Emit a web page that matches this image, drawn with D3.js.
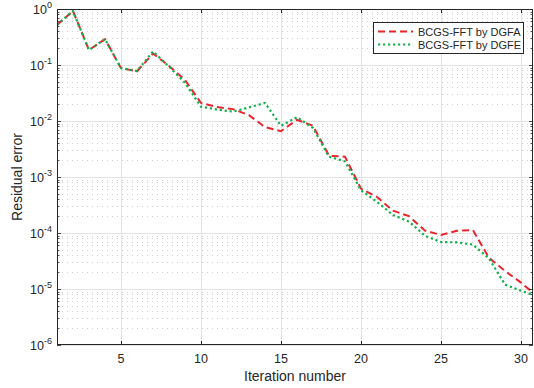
<!DOCTYPE html>
<html>
<head>
<meta charset="utf-8">
<script src="https://cdn.jsdelivr.net/npm/d3@7"></script>
<style>
  body { margin: 0; background: #fff; }
  svg { display: block; font-family: "Liberation Sans", Arial, sans-serif; }
</style>
</head>
<body>
<svg id="chart" width="534" height="388"></svg>
<script>
// Data
const iterations = d3.range(1, 32);
const dgfa = [0.52, 0.92, 0.185, 0.29, 0.088, 0.077, 0.16, 0.096, 0.054, 0.021,
  0.0177, 0.0163, 0.0127, 0.0078, 0.0066, 0.0105, 0.0082, 0.0024, 0.0023, 0.00062,
  0.00044, 0.00025, 0.0002, 0.00011, 0.000092, 0.00011, 0.000112, 0.000036, 0.000021, 0.000013,
  0.0000075];
const dgfe = [0.52, 0.92, 0.185, 0.29, 0.088, 0.078, 0.175, 0.094, 0.048, 0.018,
  0.016, 0.0147, 0.0175, 0.021, 0.0082, 0.0117, 0.0075, 0.0023, 0.0019, 0.00058,
  0.00036, 0.00021, 0.00016, 0.000089, 0.000069, 0.000068, 0.000062, 0.000035, 0.000012, 0.0000093,
  0.0000074];
const xTicks = [5, 10, 15, 20, 25, 30];
const yExponents = [0, -1, -2, -3, -4, -5, -6];
const seriesNames = ["BCGS-FFT by DGFA", "BCGS-FFT by DGFE"];

// Layout
const margin = { left: 57, top: 9, right: 533, bottom: 345 };
const svg = d3.select("#chart");

const x = d3.scaleLinear().domain([1, 30.75]).range([margin.left, margin.right]);
const y = d3.scaleLog().domain([1e-6, 1]).range([margin.bottom, margin.top]);

// Minor grid (dotted)
const minorY = [];
for (let e = -6; e < 0; e++) {
  for (let m = 2; m <= 9; m++) minorY.push(m * Math.pow(10, e));
}
svg.append("g")
  .selectAll("line")
  .data(minorY)
  .join("line")
  .attr("x1", margin.left)
  .attr("x2", margin.right)
  .attr("y1", (d) => Math.round(y(d)) + 0.5)
  .attr("y2", (d) => Math.round(y(d)) + 0.5)
  .attr("stroke", "#cfcfcf")
  .attr("stroke-width", 1)
  .attr("stroke-dasharray", "1,4");

// Major grid
const majorY = yExponents.map((e) => Math.pow(10, e));
svg.append("g")
  .selectAll("line")
  .data(majorY)
  .join("line")
  .attr("x1", margin.left)
  .attr("x2", margin.right)
  .attr("y1", (d) => Math.round(y(d)) + 0.5)
  .attr("y2", (d) => Math.round(y(d)) + 0.5)
  .attr("stroke", "#e3e3e3");

svg.append("g")
  .selectAll("line")
  .data(xTicks)
  .join("line")
  .attr("x1", (d) => Math.round(x(d)) + 0.5)
  .attr("x2", (d) => Math.round(x(d)) + 0.5)
  .attr("y1", margin.top)
  .attr("y2", margin.bottom)
  .attr("stroke", "#e3e3e3");

// Lines
const line = (vals) => d3.line()
  .x((d, i) => x(iterations[i]))
  .y((d) => y(d))(vals);

svg.append("defs").append("clipPath").attr("id", "clip")
  .append("rect")
  .attr("x", margin.left).attr("y", margin.top)
  .attr("width", margin.right - margin.left)
  .attr("height", margin.bottom - margin.top);

const plot = svg.append("g").attr("clip-path", "url(#clip)");

plot.append("path")
  .attr("d", line(dgfa))
  .attr("fill", "none")
  .attr("stroke", "#e8262b")
  .attr("stroke-width", 2)
  .attr("stroke-dasharray", "7,4");

plot.append("path")
  .attr("d", line(dgfe))
  .attr("fill", "none")
  .attr("stroke", "#10b04a")
  .attr("stroke-width", 2.2)
  .attr("stroke-dasharray", "2.2,2.8");

// Axes box
const axisColor = "#262626";
svg.append("rect")
  .attr("x", margin.left + 0.5)
  .attr("y", margin.top + 0.5)
  .attr("width", margin.right - margin.left - 1)
  .attr("height", margin.bottom - margin.top - 1)
  .attr("fill", "none")
  .attr("stroke", axisColor);

// Ticks
const tickLen = 4;
svg.append("g")
  .selectAll("line")
  .data(xTicks)
  .join("line")
  .attr("x1", (d) => Math.round(x(d)) + 0.5)
  .attr("x2", (d) => Math.round(x(d)) + 0.5)
  .attr("y1", margin.bottom)
  .attr("y2", margin.bottom - tickLen)
  .attr("stroke", axisColor);
svg.append("g")
  .selectAll("line")
  .data(xTicks)
  .join("line")
  .attr("x1", (d) => Math.round(x(d)) + 0.5)
  .attr("x2", (d) => Math.round(x(d)) + 0.5)
  .attr("y1", margin.top)
  .attr("y2", margin.top + tickLen)
  .attr("stroke", axisColor);

const allYTicks = majorY.concat(minorY);
[margin.left, margin.right].forEach((edge) => {
  const dir = edge === margin.left ? 1 : -1;
  svg.append("g")
    .selectAll("line")
    .data(allYTicks)
    .join("line")
    .attr("x1", edge)
    .attr("x2", (d) => edge + dir * (majorY.includes(d) ? tickLen : 2.5))
    .attr("y1", (d) => Math.round(y(d)) + 0.5)
    .attr("y2", (d) => Math.round(y(d)) + 0.5)
    .attr("stroke", axisColor)
    .attr("stroke-width", 0.8);
});

// Tick labels
svg.append("g")
  .selectAll("text")
  .data(xTicks)
  .join("text")
  .attr("x", (d) => x(d))
  .attr("y", margin.bottom + 18)
  .attr("text-anchor", "middle")
  .attr("font-size", 12.5)
  .attr("fill", axisColor)
  .text((d) => d);

const yLabels = svg.append("g")
  .selectAll("text")
  .data(yExponents)
  .join("text")
  .attr("x", margin.left - 5)
  .attr("y", (d) => y(Math.pow(10, d)) + 5)
  .attr("text-anchor", "end")
  .attr("font-size", 12.5)
  .attr("fill", axisColor);
yLabels.append("tspan").text("10");
yLabels.append("tspan")
  .attr("dy", -6)
  .attr("font-size", 9)
  .text((d) => d);

// Axis titles
svg.append("text")
  .attr("x", (margin.left + margin.right) / 2)
  .attr("y", margin.bottom + 36)
  .attr("text-anchor", "middle")
  .attr("font-size", 14)
  .attr("fill", axisColor)
  .text("Iteration number");

svg.append("text")
  .attr("transform", `translate(22,${(margin.top + margin.bottom) / 2}) rotate(-90)`)
  .attr("text-anchor", "middle")
  .attr("font-size", 14)
  .attr("fill", axisColor)
  .text("Residual error");

// Legend
const legend = svg.append("g").attr("transform", "translate(373,22)");
legend.append("rect")
  .attr("x", 0.5).attr("y", 0.5)
  .attr("width", 150).attr("height", 31)
  .attr("fill", "#fff")
  .attr("stroke", axisColor);
const legendStyles = [
  { color: "#e8262b", dash: "7,4", width: 2 },
  { color: "#10b04a", dash: "2.2,2.8", width: 2.2 },
];
seriesNames.forEach((name, i) => {
  const ly = 9.5 + i * 13;
  legend.append("line")
    .attr("x1", 5).attr("x2", 40)
    .attr("y1", ly).attr("y2", ly)
    .attr("stroke", legendStyles[i].color)
    .attr("stroke-width", legendStyles[i].width)
    .attr("stroke-dasharray", legendStyles[i].dash);
  legend.append("text")
    .attr("x", 45)
    .attr("y", ly + 4)
    .attr("font-size", 11)
    .attr("fill", axisColor)
    .text(name);
});
</script>
</body>
</html>
